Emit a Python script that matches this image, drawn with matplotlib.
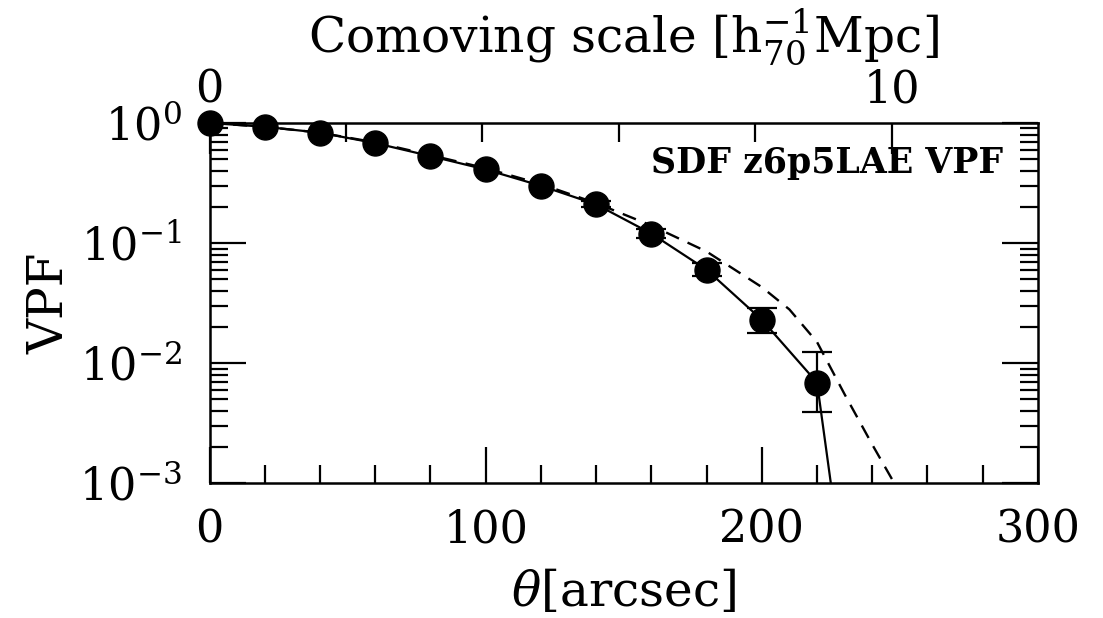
import numpy as np
import matplotlib
matplotlib.use("Agg")
import matplotlib.pyplot as plt
from matplotlib.ticker import MultipleLocator, LogLocator, NullFormatter, FixedLocator

plt.rcParams['font.family'] = ['DejaVu Serif']
plt.rcParams['mathtext.fontset'] = 'dejavuserif'

# measured VPF points
theta = [0, 20, 40, 60, 80, 100, 120, 140, 160, 180, 200, 220]
vpf = [1.0, 0.93, 0.83, 0.68, 0.53, 0.41, 0.30, 0.21, 0.12, 0.060, 0.023, 0.0069]

# points that carry error bars
err_theta = [140, 160, 180, 200, 220]
err_vpf = [0.21, 0.12, 0.060, 0.023, 0.0069]
err_lo = [0.012, 0.010, 0.007, 0.005, 0.0030]
err_hi = [0.012, 0.011, 0.008, 0.006, 0.0055]

# solid model curve
solid_theta = [0, 20, 40, 60, 80, 100, 120, 140, 160, 180, 200, 220, 225]
solid_vpf = [1.0, 0.93, 0.83, 0.68, 0.53, 0.41, 0.30, 0.21, 0.12, 0.060, 0.023, 0.0069, 0.001]

# dashed model curve
dash_theta = [0, 20, 40, 60, 80, 100, 120, 140, 160, 180, 200, 210, 220, 230, 240, 248]
dash_vpf = [1.0, 0.93, 0.83, 0.69, 0.54, 0.42, 0.31, 0.215, 0.14, 0.085, 0.043, 0.028, 0.015, 0.0055, 0.0021, 0.001]

# top axis: comoving scale in h70^-1 Mpc
arcsec_per_mpc = 24.7
mpc_major = [0, 10]
mpc_minor = [2, 4, 6, 8]

fig = plt.figure(figsize=(11.03, 6.18), dpi=100)
ax = fig.add_axes([0.190, 0.218, 0.751, 0.583])

ax.plot(solid_theta, solid_vpf, color='black', lw=1.6)
ax.plot(dash_theta, dash_vpf, color='black', lw=1.7, ls=(0, (6, 4)))
ax.errorbar(err_theta, err_vpf, yerr=[err_lo, err_hi], fmt='none', ecolor='black',
            elinewidth=1.6, capsize=10.5, capthick=1.6, zorder=4)
ax.plot(theta, vpf, 'o', color='black', ms=18, clip_on=False, zorder=5)

ax.set_xlim(0, 300)
ax.set_yscale('log')
ax.set_ylim(1e-3, 1)

for s in ax.spines.values():
    s.set_linewidth(1.8)

ax.xaxis.set_major_locator(MultipleLocator(100))
ax.xaxis.set_minor_locator(MultipleLocator(20))
ax.yaxis.set_major_locator(LogLocator(base=10, numticks=10))
ax.yaxis.set_minor_locator(LogLocator(base=10, subs=np.arange(2, 10), numticks=20))
ax.yaxis.set_minor_formatter(NullFormatter())
ax.tick_params(which='both', direction='in', labelsize=32, width=1.6)
ax.tick_params(axis='x', which='both', pad=18, top=False, bottom=True)
ax.tick_params(axis='y', which='both', left=True, right=True, pad=20)
ax.tick_params(which='major', length=26)
ax.tick_params(which='minor', length=13)

top = ax.twiny()
top.set_xlim(0, 300 / arcsec_per_mpc)
top.xaxis.set_major_locator(FixedLocator(mpc_major))
top.xaxis.set_minor_locator(FixedLocator(mpc_minor))
top.tick_params(axis='x', which='both', direction='in', labelsize=32, width=1.6, pad=8,
                top=True, bottom=False, labeltop=True, labelbottom=False)
top.tick_params(axis='x', which='major', length=22)
top.tick_params(axis='x', which='minor', length=14)
top.set_xlabel(r'Comoving scale [h$_{70}^{-1}$Mpc]', fontsize=35, labelpad=12)
for s in top.spines.values():
    s.set_visible(False)

ax.set_xlabel(r'$\theta$[arcsec]', fontsize=35, labelpad=12)
ax.set_ylabel('VPF', fontsize=35, labelpad=4)

ax.text(0.958, 0.889, 'SDF z6p5LAE VPF', transform=ax.transAxes, ha='right', va='center',
        fontsize=25, fontweight='bold')

fig.savefig('out.png', dpi=100)
